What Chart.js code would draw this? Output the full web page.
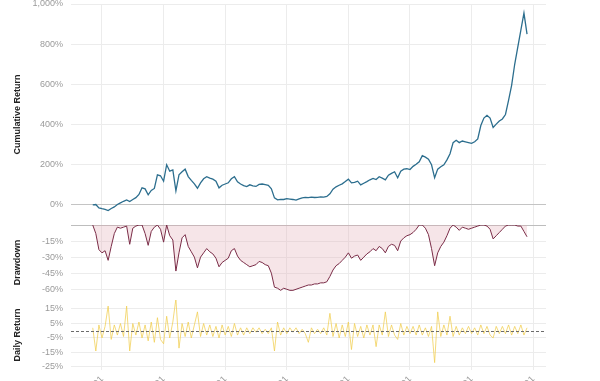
<!DOCTYPE html>
<html><head><meta charset="utf-8">
<script src="https://cdn.jsdelivr.net/npm/chart.js@4/dist/chart.umd.min.js"></script>
<style>
html,body{margin:0;padding:0;background:#fff;overflow:hidden;}
#wrap{width:600px;height:381px;overflow:hidden;position:relative;}
#c{display:block;}
</style></head><body>
<div id="wrap"><canvas id="c" width="600" height="420"></canvas></div>
<script>
// sampling of the series: first date (decimal year) and spacing between samples
const startYear = 2010.85;
const step = 0.05;

const cumulative = [0,2,-15,-19,-22,-28,-18,-10,2,10,
 18,25,17,27,36,52,85,80,50,72,
 82,150,145,118,200,168,174,70,150,165,
 178,141,122,105,83,110,130,140,133,128,
 118,85,98,104,110,130,140,115,104,96,
 91,100,95,92,102,104,101,97,80,35,
 25,28,27,31,29,27,24,30,35,37,
 36,39,37,38,40,39,42,55,78,90,
 98,105,116,128,110,112,118,100,108,116,
 125,132,126,140,133,125,148,157,165,135,
 168,178,180,176,192,202,215,245,238,228,
 200,135,178,190,200,224,255,310,322,310,
 318,314,310,306,314,328,395,432,446,432,
 385,402,418,428,450,520,595,700,785,870,
 955,850];

const drawdown = [0,-8,-23,-26,-24,-33,-20,-8,-2,-3,
 -2,-1,-18,-3,-1,0,0,-8,-19,-6,
 -2,0,-4,-16,0,-10,-14,-43,-26,-12,
 -9,-20,-25,-30,-40,-30,-26,-22,-25,-27,
 -31,-39,-35,-33,-31,-24,-22,-29,-33,-35,
 -37,-39,-38,-37,-34,-35,-37,-38,-45,-58,
 -59,-61,-59,-60,-61,-61,-60,-59,-58,-57,
 -56,-56,-55,-55,-54,-54,-53,-48,-42,-38,
 -36,-33,-30,-26,-31,-29,-28,-33,-30,-27,
 -25,-22,-24,-20,-22,-26,-20,-18,-19,-24,
 -15,-12,-10,-9,-7,-4,0,0,-3,-9,
 -22,-38,-26,-20,-16,-10,-3,0,-2,-5,
 -2,-3,-4,-3,-2,-1,0,0,-1,-4,
 -13,-10,-7,-4,-1,0,0,0,-1,-1,
 -6,-11];

const dailyReturn = [2,-14,4,-5,3,17,-6,4,-3,5,
 -4,17,-14,5,-3,6,-5,4,-7,6,
 -8,9,-6,-9,10,-5,6,22,-12,5,
 -4,6,-5,4,13,-4,5,-3,4,-4,
 3,-5,4,-3,3,-4,5,-3,2,-3,
 2,-2,2,-1,2,-2,1,-2,2,-14,
 6,-3,2,-2,2,-1,2,-2,1,-2,
 -8,2,-2,1,-2,2,-3,12,-4,5,
 -5,4,-4,6,-13,5,-4,3,-5,4,
 -3,4,-11,4,-3,13,-4,4,-3,-6,
 5,-3,3,-2,3,-3,4,-3,2,-4,
 3,-22,13,-4,4,-3,10,-4,3,-3,
 2,-2,3,-2,2,-3,4,-2,3,-3,
 -5,3,-2,3,-2,4,-3,3,-2,4,
 -3,2];

const tickYears = [2011,2012,2013,2014,2015,2016,2017,2018];
const xTickLabels = ['2011-01','2012-01','2013-01','2014-01','2015-01','2016-01','2017-01','2018-01'];
const cumTicks = [0,200,400,600,800,1000];
const ddTicks = [0,-15,-30,-45,-60];
const dailyTicks = [15,5,-5,-15,-25];

const toPts = arr => arr.map((v,i)=>({x: startYear + i*step, y: v}));

const FONT = "'Liberation Sans', Arial, sans-serif";
const tickFont = {family: FONT, size: 9};
const titleFont = {family: FONT, size: 9, weight: 'bold'};
const yFit = s => { s.width = 71; s.paddingTop = 0; s.paddingBottom = 0; };

const zeroLine = {
  id: 'zeroLine',
  afterDatasetsDraw(chart) {
    const y = chart.scales.yDaily.getPixelForValue(0);
    const a = chart.chartArea, ctx = chart.ctx;
    ctx.save();
    ctx.strokeStyle = '#6b6b6b';
    ctx.lineWidth = 1;
    ctx.setLineDash([3,2]);
    ctx.beginPath();
    ctx.moveTo(a.left, Math.round(y)+0.5);
    ctx.lineTo(a.right, Math.round(y)+0.5);
    ctx.stroke();
    ctx.restore();
  }
};

new Chart(document.getElementById('c'), {
  type: 'line',
  data: {
    datasets: [
      {label: 'Daily Return', data: toPts(dailyReturn), yAxisID: 'yDaily',
       borderColor: 'rgba(240,205,80,0.75)', borderWidth: 1, pointRadius: 0, fill: false},
      {label: 'Drawdown', data: toPts(drawdown), yAxisID: 'yDD',
       borderColor: '#7a2c47', borderWidth: 1, pointRadius: 0,
       fill: 'origin', backgroundColor: 'rgba(226,170,178,0.3)'},
      {label: 'Cumulative Return', data: toPts(cumulative), yAxisID: 'yCum',
       borderColor: '#2c6e8e', borderWidth: 1.3, pointRadius: 0, fill: false}
    ]
  },
  options: {
    responsive: false, animation: false, devicePixelRatio: 1,
    layout: {padding: {top: 4, right: 54, left: 0, bottom: 0}},
    plugins: {legend: {display: false}, tooltip: {enabled: false}},
    scales: {
      x: {
        type: 'linear', min: 2010.497, max: 2018.208,
        afterBuildTicks: s => { s.ticks = tickYears.map(v => ({value: v})); },
        afterFit: s => { s.height = 50; s.paddingLeft = 0; s.paddingRight = 0; },
        ticks: {color: '#9a9a9a', font: tickFont, minRotation: 45, maxRotation: 45, padding: 4,
                autoSkip: false, callback: (v, i) => xTickLabels[i]},
        grid: {color: '#ececec', drawTicks: false},
        border: {display: false}
      },
      yDaily: {
        type: 'linear', position: 'left', stack: 'panels', stackWeight: 70, weight: 1,
        min: -27.1, max: 21.2,
        afterBuildTicks: s => { s.ticks = dailyTicks.map(v => ({value: v})); },
        afterFit: yFit,
        ticks: {color: '#9a9a9a', font: tickFont, padding: 8, autoSkip: false, callback: v => v + '%'},
        grid: {color: '#ececec', drawTicks: false},
        border: {display: false},
        title: {display: true, text: 'Daily Return', color: '#222', font: titleFont, padding: {top: 12, bottom: 0}}
      },
      yDD: {
        type: 'linear', position: 'left', stack: 'panels', stackWeight: 75, weight: 2,
        min: -70, max: 0,
        afterBuildTicks: s => { s.ticks = ddTicks.map(v => ({value: v})); },
        afterFit: yFit,
        ticks: {color: '#9a9a9a', font: tickFont, padding: 8, autoSkip: false, callback: v => v === 0 ? '' : v + '%'},
        grid: {color: ctx => ctx.tick && ctx.tick.value === 0 ? '#bdbdbd' : '#ececec', drawTicks: false},
        border: {display: false},
        title: {display: true, text: 'Drawdown', color: '#222', font: titleFont, padding: {top: 12, bottom: 0}}
      },
      yCum: {
        type: 'linear', position: 'left', stack: 'panels', stackWeight: 221, weight: 3,
        min: -100, max: 1000,
        afterBuildTicks: s => { s.ticks = cumTicks.map(v => ({value: v})); },
        afterFit: yFit,
        ticks: {color: '#9a9a9a', font: tickFont, padding: 8, autoSkip: false,
                callback: v => v.toLocaleString('en-US') + '%'},
        grid: {color: ctx => ctx.tick && ctx.tick.value === 0 ? '#c4c4c4' : '#ececec', drawTicks: false},
        border: {display: false},
        title: {display: true, text: 'Cumulative Return', color: '#222', font: titleFont, padding: {top: 12, bottom: 0}}
      }
    }
  },
  plugins: [zeroLine]
});
</script>
</body></html>
